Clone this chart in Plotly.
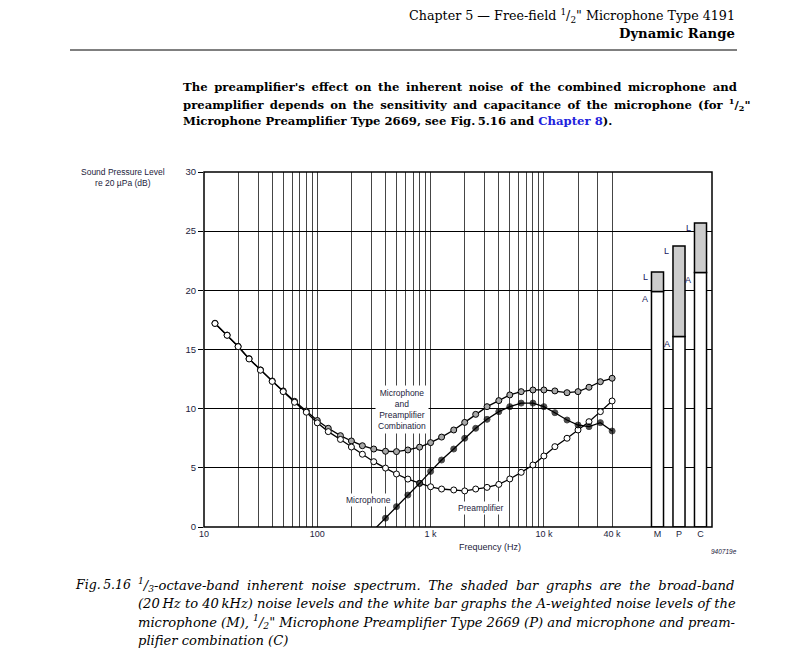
import plotly.graph_objects as go

# ---------------- data ----------------
FREQ = [12.5, 16, 20, 25, 31.5, 40, 50, 63, 80, 100, 125, 160, 200, 250, 315, 400, 500,
        630, 800, 1000, 1250, 1600, 2000, 2500, 3150, 4000, 5000, 6300, 8000, 10000,
        12500, 16000, 20000, 25000, 31500, 40000]
PREAMP = [17.2, 16.2, 15.24, 14.2, 13.25, 12.3, 11.44, 10.54, 9.7, 8.8, 8.06, 7.4, 6.76,
          6.15, 5.52, 4.98, 4.48, 4.05, 3.69, 3.4, 3.21, 3.13, 3.05, 3.21, 3.35, 3.6,
          4.06, 4.62, 5.24, 6.0, 6.79, 7.5, 8.2, 8.9, 9.75, 10.65]
COMBO = [17.22, 16.22, 15.27, 14.23, 13.28, 12.34, 11.5, 10.62, 9.8, 9.0, 8.34, 7.72, 7.27,
         6.87, 6.59, 6.4, 6.37, 6.51, 6.75, 7.13, 7.6, 8.2, 8.84, 9.52, 10.17, 10.68,
         11.16, 11.44, 11.58, 11.58, 11.5, 11.35, 11.44, 11.81, 12.28, 12.57]
MIC_FREQ = [315, 400, 500, 630, 800, 1000, 1250, 1600, 2000, 2500, 3150, 4000, 5000, 6300,
            8000, 10000, 12500, 16000, 20000, 25000, 31500, 40000]
MIC = [-0.25, 0.75, 1.72, 2.7, 3.69, 4.7, 5.66, 6.59, 7.5, 8.34, 9.1, 9.75, 10.17, 10.47,
       10.47, 10.17, 9.66, 9.04, 8.62, 8.48, 8.82, 8.11]

BAR_CATS = ["M", "P", "C"]
A_LEVEL = [19.9, 16.1, 21.5]
LIN_LEVEL = [21.55, 23.75, 25.7]

GRID_FREQS = ([10 * k for k in range(1, 10)] + [100 * k for k in range(1, 10)] +
              [1000 * k for k in range(1, 10)] + [10000, 20000, 30000, 40000])
X_LABELS = {10: "10", 100: "100", 1000: "1 k", 10000: "10 k", 40000: "40 k"}
Y_TICKS = [0, 5, 10, 15, 20, 25, 30]

# ---------------- geometry helpers (page pixel coords) ----------------
W, H = 789, 662
OFF = 8  # page body margin
L, R, T, B = 204, 712, 172, 527
def px(x):
    return (x - L) / (R - L)
def py(y):
    return (B - y) / (B - T)

SPLIT = 630
DOM = px(SPLIT)
DEC = 113.3
XR_END = 1 + (SPLIT - L) / DEC
CAT_STEP = 21.5
X2_LO = -(657.5 - SPLIT) / CAT_STEP
X2_HI = 2 + (R - 700.5) / CAT_STEP

SANS = "Liberation Sans, Arial, sans-serif"
SERIF = "DejaVu Serif, serif"
INK = "#1c1c3c"
TS = "\u2009"  # thin space

fig = go.Figure()

fig.add_trace(go.Scatter(x=FREQ, y=COMBO, mode="lines+markers", xaxis="x", yaxis="y",
                         line=dict(color="black", width=1.3),
                         marker=dict(size=6, color="#a8a8a8", line=dict(color="black", width=1)),
                         name="Combination", showlegend=False, cliponaxis=True))
fig.add_trace(go.Scatter(x=FREQ, y=PREAMP, mode="lines+markers", xaxis="x", yaxis="y",
                         line=dict(color="black", width=1.3),
                         marker=dict(size=6, color="white", line=dict(color="black", width=1)),
                         name="Preamplifier", showlegend=False, cliponaxis=True))
fig.add_trace(go.Scatter(x=MIC_FREQ, y=MIC, mode="lines+markers", xaxis="x", yaxis="y",
                         line=dict(color="black", width=1.3),
                         marker=dict(size=[0] + [6] * (len(MIC) - 1), color="black",
                                     line=dict(color="black", width=1)),
                         name="Microphone", showlegend=False, cliponaxis=True))

fig.add_trace(go.Bar(x=BAR_CATS, y=A_LEVEL, xaxis="x2", yaxis="y2", width=0.56,
                     marker=dict(color="white", line=dict(color="black", width=1.5)),
                     showlegend=False))
fig.add_trace(go.Bar(x=BAR_CATS, y=[l - a for l, a in zip(LIN_LEVEL, A_LEVEL)],
                     base=A_LEVEL, xaxis="x2", yaxis="y2", width=0.56,
                     marker=dict(color="#cccccc", line=dict(color="black", width=1.5)),
                     showlegend=False))

ann = []
def note(x, y, text, size, family=SERIF, color="black", xanchor="center", **kw):
    ann.append(dict(x=px(x), y=py(y), xref="paper", yref="paper", text=text,
                    xanchor=xanchor, yanchor="middle", showarrow=False,
                    font=dict(family=family, size=size, color=color), **kw))

# bar labels
for i, (a, l) in enumerate(zip(A_LEVEL, LIN_LEVEL)):
    ann.append(dict(x=i - 0.58, y=l - 0.4, xref="x2", yref="y2", text="L", showarrow=False,
                    xanchor="center", yanchor="middle",
                    font=dict(family=SANS, size=9, color="#202060")))
    ann.append(dict(x=i - 0.58, y=a - 0.6, xref="x2", yref="y2", text="A", showarrow=False,
                    xanchor="center", yanchor="middle",
                    font=dict(family=SANS, size=9, color="#202060")))

# curve labels
ann.append(dict(x=2.745, y=9.97, xref="x", yref="y", xanchor="center", yanchor="middle",
                text="Microphone<br>and<br>Preamplifier<br>Combination", showarrow=False,
                font=dict(family=SANS, size=8.5, color=INK), bgcolor="white", borderpad=2))
ann.append(dict(x=2.45, y=2.28, xref="x", yref="y", xanchor="center", yanchor="middle",
                text="Microphone", showarrow=False,
                font=dict(family=SANS, size=8.5, color=INK), bgcolor="white", borderpad=1))
ann.append(dict(x=3.447, y=1.63, xref="x", yref="y", xanchor="center", yanchor="middle",
                text="Preamplifier", showarrow=False,
                font=dict(family=SANS, size=8.5, color=INK), bgcolor="white", borderpad=1))

# axis titles
note(123, 177, "Sound Pressure Level<br>re 20 µPa (dB)", 8.5, SANS, INK)
note(490, 547, "Frequency (Hz)", 9, SANS, INK)
note(724, 551, "<i>940719e</i>", 6.5, SANS, INK)

# header
note(737, 16, 'Chapter 5 — Free-field <sup>1</sup>/<sub>2</sub>" Microphone Type 4191', 12.7,
     xanchor="right")
note(737, 33, "<b>Dynamic Range</b>", 13.2, xanchor="right")

# paragraph (justified via word spacing)
PARA = [
    ("The preamplifier's effect on the inherent noise of the combined microphone and", 2.65),
    ('preamplifier depends on the sensitivity and capacitance of the microphone (for <sup>1</sup>/<sub>2</sub>"', 2.2),
    ('Microphone Preamplifier Type 2669, see Fig.' + TS + '5.16 and <span style="color:#2222dd">Chapter 8</span>).', 0),
]
for (t, ws), yy in zip(PARA, [87, 104, 121]):
    note(181, yy, '<b><span style="word-spacing:%spx">%s</span></b>' % (ws, t), 11.65,
         xanchor="left")

# caption
note(73, 584, "<i>Fig." + TS + "5.16</i>", 12.5, xanchor="left")
CAP = [
    ("<sup>1</sup>/<sub>3</sub>-octave-band inherent noise spectrum. The shaded bar graphs are the broad-band", 3.5),
    ("(20" + TS + "Hz to 40" + TS + "kHz) noise levels and the white bar graphs the A-weighted noise levels of the", 0.05),
    ('microphone (M), <sup>1</sup>/<sub>2</sub>" Microphone Preamplifier Type 2669 (P) and microphone and pream-', 0),
    ("plifier combination (C)", 0),
]
for (t, ws), yy in zip(CAP, [584, 603, 621, 640]):
    note(136, yy, '<i><span style="word-spacing:%spx">%s</span></i>' % (ws, t), 13.1,
         xanchor="left")

shapes = [
    dict(type="rect", xref="paper", yref="paper", x0=0, x1=1, y0=0, y1=1,
         line=dict(color="black", width=1.5), layer="above"),
    dict(type="line", xref="paper", yref="paper", x0=px(70), x1=px(737), y0=py(50), y1=py(50),
         line=dict(color="black", width=1)),
]

fig.update_layout(
    width=W, height=H,
    margin=dict(l=L - OFF, r=W - (R - OFF), t=T - OFF, b=H - (B - OFF)),
    paper_bgcolor="white", plot_bgcolor="white", barmode="overlay",
    annotations=ann, shapes=shapes, showlegend=False,
    xaxis=dict(type="log", domain=[0, DOM], range=[1, XR_END],
               tickvals=GRID_FREQS, ticktext=[X_LABELS.get(f, "") for f in GRID_FREQS],
               showgrid=True, gridcolor="#454545", gridwidth=1.2, ticks="",
               tickfont=dict(family=SANS, size=9, color=INK), showline=False, zeroline=False),
    xaxis2=dict(domain=[DOM, 1], range=[X2_LO, X2_HI], type="category", anchor="y2",
                showgrid=False, ticks="", tickfont=dict(family=SANS, size=9, color=INK),
                showline=False, zeroline=False),
    yaxis=dict(range=[0, 30], tickvals=Y_TICKS, showgrid=True, gridcolor="black", gridwidth=1.2,
               ticks="outside", ticklen=5, tickcolor="black",
               tickfont=dict(family=SANS, size=9.5, color=INK), zeroline=False, showline=False),
    yaxis2=dict(range=[0, 30], tickvals=Y_TICKS, anchor="x2", showgrid=True, gridcolor="black",
                gridwidth=1.2, showticklabels=False, zeroline=False, showline=False),
)

fig.write_html("out.html")
